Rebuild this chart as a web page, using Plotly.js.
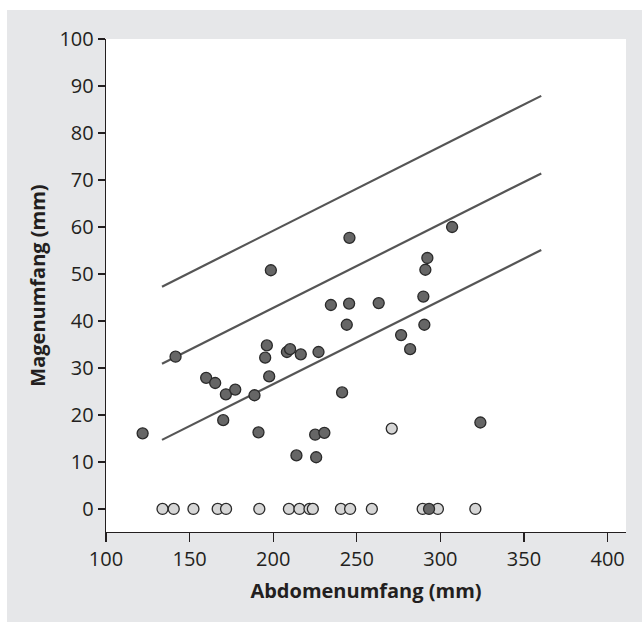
<!DOCTYPE html>
<html>
<head>
<meta charset="utf-8">
<script src="https://cdn.plot.ly/plotly-3.0.1.min.js"></script>
<style>
  html, body { margin: 0; padding: 0; background: #ffffff; }
  #chart { position: absolute; left: 7px; top: 10px; width: 635px; height: 612px; }
</style>
</head>
<body>
<div id="chart"></div>
<script>
// Dark points (measured Magenumfang)
const darkX = [121.9, 141.6, 159.9, 165.3, 170.1, 171.7, 177.3, 188.8, 191.2, 195.2, 196.2, 197.6, 198.6,
               208.2, 210.1, 213.9, 216.5, 225.1, 225.7, 227.1, 230.6, 234.5, 241.2, 244.0, 245.4, 245.6,
               263.1, 276.5, 281.9, 289.8, 290.4, 291.0, 292.2, 307.0, 323.9, 293.2];
const darkY = [16.1, 32.4, 27.9, 26.8, 18.9, 24.4, 25.4, 24.2, 16.3, 32.2, 34.8, 28.2, 50.8,
               33.4, 34.0, 11.4, 32.9, 15.8, 11.0, 33.4, 16.2, 43.4, 24.8, 39.2, 43.7, 57.7,
               43.8, 37.0, 34.0, 45.2, 39.2, 50.9, 53.4, 60.0, 18.4, 0];
// Light points
const lightX = [133.8, 140.5, 152.3, 166.8, 171.8, 191.7, 209.4, 215.7, 221.7, 223.7, 240.5, 246.0,
                259.0, 289.4, 298.5, 320.9, 270.9];
const lightY = [0, 0, 0, 0, 0, 0, 0, 0, 0, 0, 0, 0, 0, 0, 0, 0, 17.1];
// Reference lines (endpoints)
const lineX = [133.5, 360.3];
const upperY = [47.3, 87.9];
const middleY = [30.9, 71.4];
const lowerY = [14.7, 55.1];

const xTicks = [100, 150, 200, 250, 300, 350, 400];
const yTicks = [0, 10, 20, 30, 40, 50, 60, 70, 80, 90, 100];

const lineStyle = {color: '#555555', width: 2.2};
const traces = [
  {x: lineX, y: upperY, mode: 'lines', line: lineStyle, hoverinfo: 'skip'},
  {x: lineX, y: middleY, mode: 'lines', line: lineStyle, hoverinfo: 'skip'},
  {x: lineX, y: lowerY, mode: 'lines', line: lineStyle, hoverinfo: 'skip'},
  {x: lightX, y: lightY, mode: 'markers',
   marker: {size: 11, color: '#d6d6d6', line: {color: '#2a2a2a', width: 1.3}}},
  {x: darkX, y: darkY, mode: 'markers',
   marker: {size: 11, color: '#666666', line: {color: '#2a2a2a', width: 1.3}}}
];

const fontFam = '"Open Sans", "Noto Sans", sans-serif';
const layout = {
  width: 635, height: 612,
  paper_bgcolor: '#e6e7e9',
  plot_bgcolor: '#ffffff',
  showlegend: false,
  margin: {l: 98.7, r: 16, t: 29, b: 89.7},
  font: {family: fontFam, color: '#231f20', size: 20},
  xaxis: {
    range: [100, 411],
    tickvals: xTicks,
    ticktext: xTicks.map(String),
    showgrid: false, zeroline: false,
    showline: true, linecolor: '#231f20', linewidth: 1.3,
    ticks: 'outside', ticklen: 9, tickwidth: 1.3, tickcolor: '#231f20',
    tickfont: {family: fontFam, size: 20, color: '#231f20'},
    title: {text: 'Abdomenumfang (mm)', font: {family: fontFam, size: 20, color: '#231f20', weight: 'bold'}, standoff: 12}
  },
  yaxis: {
    range: [-4.9, 100],
    tickvals: yTicks,
    ticktext: yTicks.map(String),
    showgrid: false, zeroline: false,
    showline: true, linecolor: '#231f20', linewidth: 1.3,
    ticks: 'outside', ticklen: 7, tickwidth: 1.3, tickcolor: '#231f20',
    tickfont: {family: fontFam, size: 20, color: '#231f20'},
    title: {text: 'Magenumfang (mm)', font: {family: fontFam, size: 20, color: '#231f20', weight: 'bold'}, standoff: 8}
  }
};

Plotly.newPlot('chart', traces, layout, {displayModeBar: false, staticPlot: true});
</script>
</body>
</html>
